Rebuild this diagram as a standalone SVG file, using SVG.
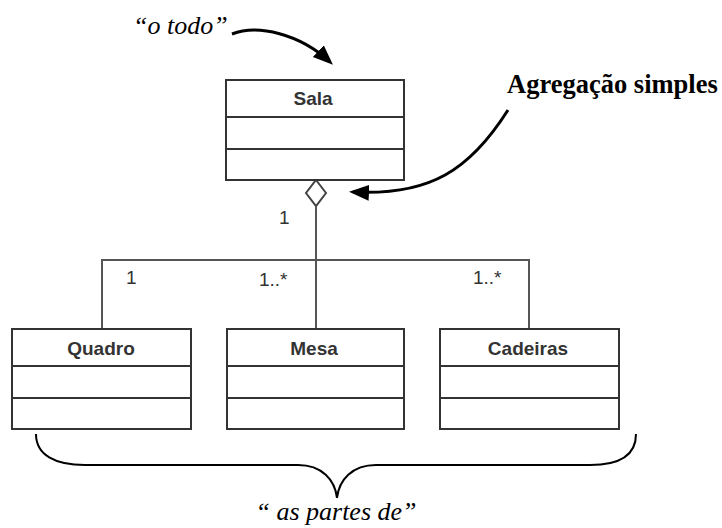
<svg xmlns="http://www.w3.org/2000/svg" width="722" height="528" viewBox="0 0 722 528">
<style>
.box{fill:#fff;stroke:#333;stroke-width:2}
.div{stroke:#333;stroke-width:2}
.name{font-family:"Liberation Sans",Arial,sans-serif;font-weight:bold;font-size:19px;fill:#333;text-anchor:middle}
.mult{font-family:"Liberation Sans",Arial,sans-serif;font-size:19px;fill:#333}
.conn{fill:none;stroke:#555;stroke-width:2}
.note{font-family:"Liberation Serif","Times New Roman",serif;font-style:italic;font-size:26px;fill:#000}
.bold{font-family:"Liberation Serif","Times New Roman",serif;font-weight:bold;font-size:26.5px;fill:#000}
.curve{fill:none;stroke:#000;stroke-width:3}
.brace{fill:none;stroke:#000;stroke-width:2}
</style>
<defs>
<marker id="ah" markerUnits="userSpaceOnUse" markerWidth="22" markerHeight="18" refX="16" refY="8" orient="auto">
<path d="M0,0 L20,8 L0,16 z" fill="#000"/>
</marker>
</defs>
<g id="connectors">
<polygon points="316,180 326,193 316,206 306,193" fill="#fff" stroke="#444" stroke-width="2"/>
<line class="conn" x1="316" y1="206" x2="316" y2="329"/>
<polyline class="conn" points="102,329 102,260 529,260 529,329"/>
<text class="mult" x="279" y="224">1</text>
<text class="mult" x="126" y="284">1</text>
<text class="mult" x="259" y="286">1..*</text>
<text class="mult" x="473" y="284">1..*</text>
</g>
<g id="sala">
<rect class="box" x="226" y="80" width="178" height="100"/>
<line class="div" x1="226" y1="117" x2="404" y2="117"/>
<line class="div" x1="226" y1="149" x2="404" y2="149"/>
<text class="name" x="313" y="105">Sala</text>
</g>
<g id="quadro">
<rect class="box" x="12" y="329" width="179" height="100"/>
<line class="div" x1="12" y1="366" x2="191" y2="366"/>
<line class="div" x1="12" y1="398" x2="191" y2="398"/>
<text class="name" x="101" y="355">Quadro</text>
</g>
<g id="mesa">
<rect class="box" x="227" y="329" width="177" height="100"/>
<line class="div" x1="227" y1="366" x2="404" y2="366"/>
<line class="div" x1="227" y1="398" x2="404" y2="398"/>
<text class="name" x="314" y="355">Mesa</text>
</g>
<g id="cadeiras">
<rect class="box" x="440" y="329" width="179" height="100"/>
<line class="div" x1="440" y1="366" x2="619" y2="366"/>
<line class="div" x1="440" y1="398" x2="619" y2="398"/>
<text class="name" x="528" y="355">Cadeiras</text>
</g>
<g id="annotations">
<text class="note" x="133" y="34">“o todo”</text>
<path class="curve" d="M232,34 C258,24 300,34 330,62" marker-end="url(#ah)"/>
<text class="bold" x="507" y="93">Agregação simples</text>
<path class="curve" d="M508,110 C470,170 430,196 353,192" marker-end="url(#ah)"/>
<path class="brace" d="M36,434 C36,455 55,465 85,465 L298,465 C322,465 335,480 337,498 C339,480 352,465 376,465 L590,465 C620,465 636,455 636,434"/>
<text class="note" x="336" y="520" text-anchor="middle">“ as partes de”</text>
</g>
</svg>
